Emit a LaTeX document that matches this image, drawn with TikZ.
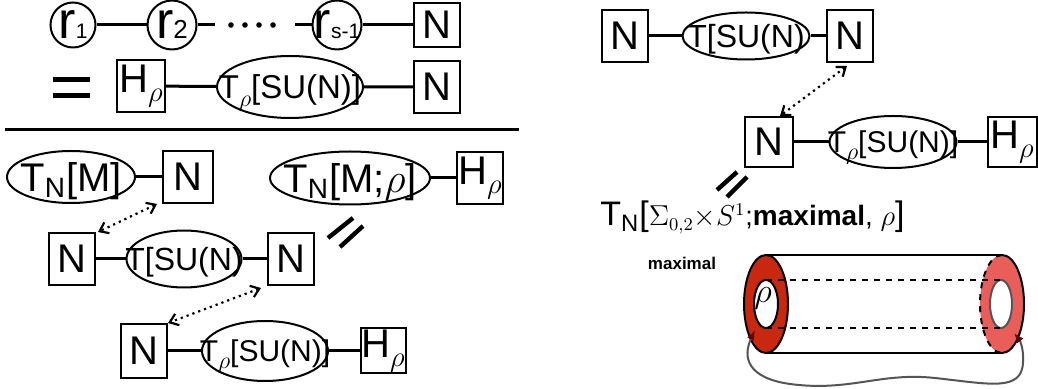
\documentclass[tikz,border=0pt]{standalone}
\usepackage{fontspec}
\setmainfont{Liberation Sans}
\usetikzlibrary{shapes.geometric,arrows.meta}

\definecolor{ringdark}{RGB}{200,40,15}
\definecolor{ringlight}{RGB}{234,94,90}
\definecolor{wire}{RGB}{85,85,85}

% text of zero size, so the shape keeps its minimum size
\newcommand\fitin[2][-.36em]{\smash{\makebox[0pt]{\raisebox{#1}{#2}}}}
\newcommand\fs[1]{\fontsize{#1}{#1}\selectfont}
% lowered rho of a given size
\newcommand\rhosub[1]{\raisebox{-.22em}{\fs{#1}$\rho$}}

\begin{document}
\begin{tikzpicture}[x=0.5pt,y=-0.5pt,
  box/.style={draw,line width=1pt,inner sep=0pt,minimum width=23pt,minimum height=26pt,font={\fs{20}}},
  oval/.style={draw,ellipse,line width=1pt,inner sep=0pt},
  gauge/.style={draw,circle,line width=1pt,inner sep=0pt,minimum size=24.5pt,font={\fs{26}}},
  link/.style={line width=1.5pt},
  dual/.style={dotted,line width=1.1pt,{Straight Barb[length=4pt,width=6pt]}-{Straight Barb[length=4pt,width=6pt]}},
  slash/.style={line width=2.2pt},
]
\useasboundingbox (0,0) rectangle (1038,389);

% quiver tail and its T_rho form
\node[gauge,minimum size=22.5pt] (r1) at (73,25) {\fitin[-.26em]{r{\fs{10.5}1}}};
\node[gauge] (r2) at (172,25) {\fitin[-.26em]{r{\fs{13}2}}};
\node[gauge] (rs) at (337,25) {\fitin[-.26em]{r{\fs{10.5}s-1}}};
\node[box,minimum height=22pt] (n0) at (437,25) {N};
\coordinate (d1) at (215,25);
\coordinate (d2) at (295,25);
\draw[link] (r1) -- (r2) (r2) -- (d1) (d2) -- (rs) (rs) -- (n0);
\foreach \xp in {231,245,259,273}
  \fill (\xp,25) circle (1.4pt);

\draw[line width=2.6pt] (53,79.5) -- (90,79.5) (53,95.5) -- (90,95.5);
\node[box,minimum width=24pt] (h0) at (141,86) {H\rhosub{14}};
\node[oval,minimum width=73pt,minimum height=31pt,font={\fs{16.5}}] (t0) at (290,87) {\fitin{T\rhosub{13}[SU(N)]}};
\node[box] (n1) at (437,87) {N};
\draw[link] (h0) -- (t0) -- (n1);

\draw[line width=1.5pt] (5,129.5) -- (519,129.5);

% gluing T_N[M] with T[SU(N)] and T_rho
\node[oval,minimum width=64pt,minimum height=26pt,font={\fs{20}}] (tm) at (71,177) {\fitin{T\textsubscript{N}[M]}};
\node[box,minimum width=25pt] (na) at (188,177) {N};
\node[oval,minimum width=80pt,minimum height=26.5pt,font={\fs{20}}] (tmr) at (350,178) {\fitin{T\textsubscript{N}[M;$\rho$]}};
\node[box] (ha) at (480,178) {H\rhosub{14}};
\node[box] (nb) at (72,259) {N};
\node[oval,minimum width=57.5pt,minimum height=28.5pt,font={\fs{16}}] (tsu) at (184,259) {\fitin{T[SU(N)}};
\node[box] (nc) at (291,259) {N};
\node[box,minimum height=27pt] (nd) at (144,351) {N};
\node[oval,minimum width=63pt,minimum height=30pt,font={\fs{15}}] (trho) at (265,351) {\fitin{T\rhosub{12.5}[SU(N)]}};
\node[box,minimum width=22.5pt,minimum height=22.5pt] (hd) at (383,351) {H\rhosub{14}};
\draw[link] (tm) -- (na) (tmr) -- (ha) (nb) -- (tsu) -- (nc) (nd) -- (trho) -- (hd);
\draw[dual] ([xshift=-2.5pt]na.south west) -- ([xshift=1pt]nb.north east);
\draw[dual] ([xshift=-3pt,yshift=-1pt]nc.south west) -- (nd.north east);
\draw[slash] (328,238) -- (353,218) (340,247) -- (363,226);

% same for the cylinder
\node[box] (nf) at (625,36) {N};
\node[oval,minimum width=63.5pt,minimum height=23.5pt,font={\fs{16}}] (tsu2) at (746,36) {\fitin{T[SU(N)}};
\node[box] (ng) at (850,36) {N};
\node[box,minimum width=24pt,minimum height=25pt] (nh) at (769,142) {N};
\node[oval,minimum width=63.5pt,minimum height=26pt,font={\fs{15}}] (trho2) at (893,142) {\fitin{T\rhosub{12.5}[SU(N)]}};
\node[box,minimum width=24.5pt,minimum height=25pt] (hh) at (1012,142) {H\rhosub{14}};
\draw[link] (nf) -- (tsu2) -- (ng) (nh) -- (trho2) -- (hh);
\draw[dual] ([xshift=-1.5pt,yshift=-1.5pt]ng.south) -- ([xshift=5.5pt]nh.north);
\draw[slash] (717,190) -- (737,172) (727,197) -- (747,177);

\node[anchor=base west,inner sep=0pt] (lbl) at (600,226) {{\fs{17}T\textsubscript{N}[}{\fs{13.5}$\Sigma_{0,2}{\times}S^1$;}{\fs{14}\bfseries maximal}{\fs{14}, $\rho$}{\fs{17}]}};
\node[font={\fs{8.5}\bfseries}] (maxl) at (682,263) {maximal};

\coordinate (cl) at (766,304);
\coordinate (cr) at (1002,304);
\fill[ringlight] (cr) ellipse [x radius=11pt,y radius=24.5pt];
\draw[line width=1pt] ([yshift=24.5pt]cr) arc[start angle=90,end angle=-90,x radius=11pt,y radius=24.5pt];
\draw[line width=1pt,dashed] ([yshift=24.5pt]cr) arc[start angle=90,end angle=270,x radius=11pt,y radius=24.5pt];
\filldraw[fill=white,draw=wire,line width=1pt] ([xshift=-.5pt]cr) ellipse [x radius=5.5pt,y radius=12pt];
\draw[line width=1pt] ([yshift=24.5pt]cl) -- ([yshift=24.5pt]cr) ([yshift=-24.5pt]cl) -- ([yshift=-24.5pt]cr);
\filldraw[fill=ringdark,line width=1pt] (cl) ellipse [x radius=11pt,y radius=24.5pt];
\filldraw[fill=white,line width=1pt] (cl) ellipse [x radius=6pt,y radius=12pt];
\draw[dashed,line width=1pt] ([yshift=12pt]cl) -- ([yshift=12pt]cr) ([yshift=-12pt]cl) -- ([yshift=-12pt]cr);
\node[font={\fs{16}}] (rho) at (763,298) {$\rho$};
\draw[wire,line width=1pt,{Latex[length=5pt,width=4pt,color=black!60!red]}-{Latex[length=5pt,width=4pt,color=black!60!red]}]
  (755,330) .. controls (742,358) and (748,378) .. (790,384)
  .. controls (850,392) and (880,372) .. (935,378)
  .. controls (990,384) and (1022,392) .. (1023,362)
  .. controls (1024,345) and (1018,338) .. (1014,333);
\end{tikzpicture}
\end{document}
